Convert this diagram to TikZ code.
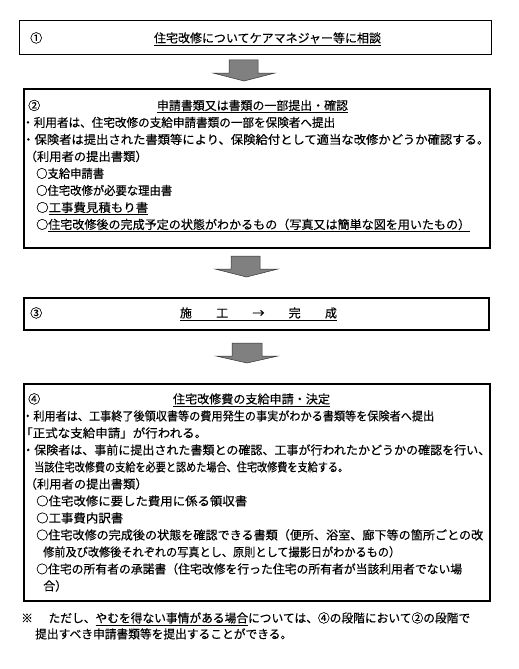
\documentclass[tikz,border=0pt]{standalone}
\usepackage{fontspec}
\usepackage{graphicx}
\setmainfont{Noto Sans CJK JP}[FakeBold=0.35]
\newcommand\fw[2]{\resizebox{#1}{\height}{#2}}
\begin{document}
\begin{tikzpicture}[x=1pt,y=-1pt,
  every node/.style={inner sep=0pt, font=\fontsize{12}{14}\selectfont},
  txt/.style={anchor=west, text height=10.5pt, text depth=1.5pt},
  ctr/.style={anchor=center, text height=10.5pt, text depth=1.5pt},
  thinbox/.style={draw=black, line width=0.9pt, anchor=north west, minimum width=#1},
  thickbox/.style={draw=black, line width=2pt, anchor=north west, minimum width=#1},
  blockarrow/.style={fill=black!50, draw=black!80, line width=0.5pt, line join=miter}]
\useasboundingbox (0,0) rectangle (519,669);
% boxes
\node[thinbox=472pt, minimum height=34pt] (b1) at (19,20) {};
\node[thickbox=466pt, minimum height=159pt] (b2) at (22.5,88) {};
\node[thickbox=465pt, minimum height=32pt] (b3) at (23,297) {};
\node[thickbox=466pt, minimum height=217pt] (b4) at (22.5,383) {};
% block arrows
\draw[blockarrow] (229,60) -- (258,60) -- (258,73) -- (275,73) -- (244,81) -- (213,73) -- (229,73) -- cycle;
\draw[blockarrow] (231,256) -- (260,256) -- (260,269) -- (278,269) -- (246.5,277) -- (215,269) -- (231,269) -- cycle;
\draw[blockarrow] (232,343) -- (262,343) -- (262,356) -- (278,356) -- (247,363) -- (216,356) -- (232,356) -- cycle;
% box 1
\node[txt] (n1) at (30,38) {①};
\node[ctr] (t1) at (267.5,38) {\underline{\fw{227pt}{住宅改修についてケアマネジャー等に相談}}};
% box 2
\node[txt] (n2) at (28,105.5) {②};
\node[ctr] (t2) at (252.5,105.5) {\underline{\fw{191pt}{申請書類又は書類の一部提出・確認}}};
\node[txt] (a1) at (22,122.5) {\fw{313pt}{・利用者は、住宅改修の支給申請書類の一部を保険者へ提出}};
\node[txt] (a2) at (22,139.5) {\fw{467pt}{・保険者は提出された書類等により、保険給付として適当な改修かどうか確認する。}};
\node[txt] (a3) at (24.5,156.5) {\fw{123pt}{（利用者の提出書類）}};
\node[txt] (a4) at (36,173.5) {\fw{68pt}{○支給申請書}};
\node[txt] (a5) at (36,190.5) {\fw{136pt}{○住宅改修が必要な理由書}};
\node[txt] (a6) at (36,207.5) {\fw{112pt}{○\underline{工事費見積もり書}}};
\node[txt] (a7) at (36,224.5) {\fw{434pt}{○\underline{住宅改修後の完成予定の状態がわかるもの（写真又は簡単な図を用いたもの）}}};
% box 3
\node[txt] (n3) at (30,313) {③};
\node[ctr] (t3) at (258.5,313) {\underline{施\hspace{24.25pt}工\hspace{24.25pt}→\hspace{24.25pt}完\hspace{24.25pt}成}};
% box 4
\node[txt] (n4) at (28,399) {④};
\node[ctr] (t4) at (251.5,399) {\underline{\fw{157pt}{住宅改修費の支給申請・決定}}};
\node[txt] (c1) at (22,416) {\fw{412pt}{・利用者は、工事終了後領収書等の費用発生の事実がわかる書類等を保険者へ提出}};
\node[txt] (c2) at (20,433) {\fw{187pt}{「正式な支給申請」が行われる。}};
\node[txt] (c3) at (22,450) {\fw{468pt}{・保険者は、事前に提出された書類との確認、工事が行われたかどうかの確認を行い、}};
\node[txt] (c4) at (34,467) {\fw{314pt}{当該住宅改修費の支給を必要と認めた場合、住宅改修費を支給する。}};
\node[txt] (c5) at (24.5,484) {\fw{123pt}{（利用者の提出書類）}};
\node[txt] (c6) at (36,501) {\fw{211pt}{○住宅改修に要した費用に係る領収書}};
\node[txt] (c7) at (36,518) {\fw{87pt}{○工事費内訳書}};
\node[txt] (c8) at (36,535) {\fw{447pt}{○住宅改修の完成後の状態を確認できる書類（便所、浴室、廊下等の箇所ごとの改}};
\node[txt] (c9) at (43,552) {\fw{357pt}{修前及び改修後それぞれの写真とし、原則として撮影日がわかるもの）}};
\node[txt] (c10) at (36,569) {\fw{426pt}{○住宅の所有者の承諾書（住宅改修を行った住宅の所有者が当該利用者でない場}};
\node[txt] (c11) at (43,586) {合）};
% footnote
\node[txt] (f1) at (21,618) {\fw{449pt}{※\hspace{16pt}ただし、\underline{やむを得ない事情がある場合}については、④の段階において②の段階で}};
\node[txt] (f2) at (35,634) {\fw{257pt}{提出すべき申請書類等を提出することができる。}};
\end{tikzpicture}
\end{document}
